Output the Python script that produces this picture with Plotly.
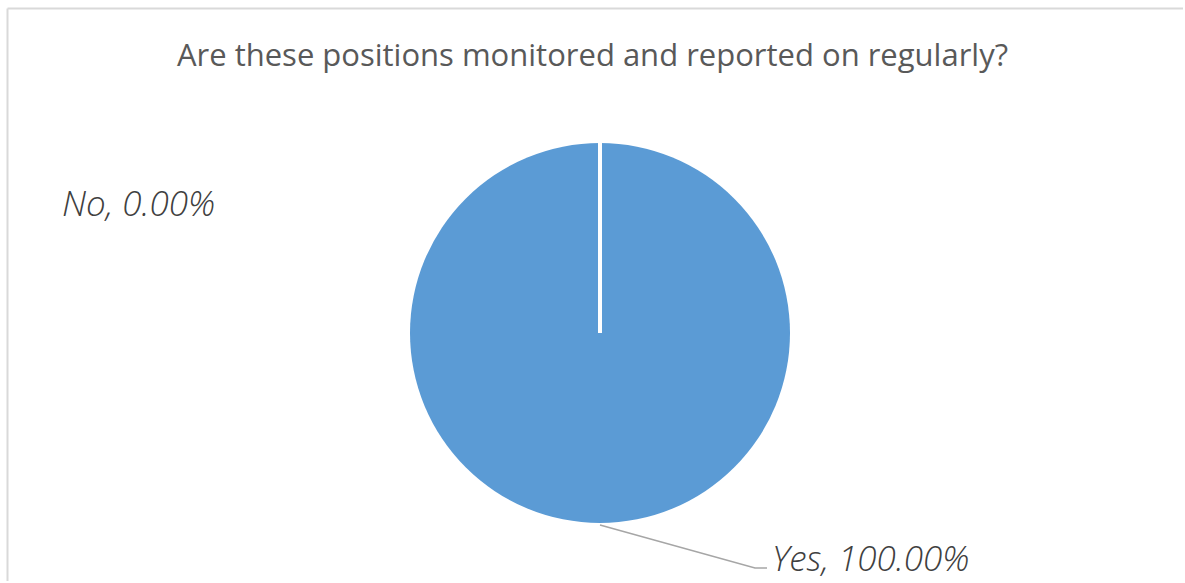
import plotly.graph_objects as go

# Survey answer shares (percent)
labels = ["No", "Yes"]
values = [0.0, 100.0]
colors = ["#ED7D31", "#5B9BD5"]

W, H = 1185, 583
cx_px, cy_px, r_px = 600, 333, 190

dom_x = [(cx_px - r_px) / W, (cx_px + r_px) / W]
dom_y = [(H - cy_px - r_px) / H, (H - cy_px + r_px) / H]

fig = go.Figure(
    go.Pie(
        labels=labels,
        values=values,
        marker=dict(colors=colors, line=dict(width=0)),
        textinfo="none",
        hoverinfo="label+percent",
        sort=False,
        direction="clockwise",
        rotation=0,
        domain=dict(x=dom_x, y=dom_y),
        showlegend=False,
    )
)

total = sum(values)
label_text = {lab: f"{lab}, {v / total * 100:.2f}%" for lab, v in zip(labels, values)}

label_font = dict(family="Open Sans", size=35, color="#404040", style="italic", weight=300)

cx = (dom_x[0] + dom_x[1]) / 2
cy = (dom_y[0] + dom_y[1]) / 2

# frame edges kept inside the page so nothing overflows
fx0, fy1 = 7.5 / W, 1 - 8.5 / H
fx1, fy0 = 1 - 2 / W, 2 / H
frame_line = dict(color="#D9D9D9", width=2)

fig.update_layout(
    width=W,
    height=H,
    margin=dict(l=0, r=0, t=0, b=0),
    paper_bgcolor="white",
    plot_bgcolor="white",
    title=dict(
        text="Are these positions monitored and reported on regularly?",
        x=0.5,
        xanchor="center",
        y=1 - 55 / H,
        yanchor="middle",
        font=dict(family="Open Sans", size=31, color="#595959"),
    ),
    shapes=[
        # chart frame: top and left edges
        dict(type="line", xref="paper", yref="paper",
             x0=fx0, x1=fx1, y0=fy1, y1=fy1, line=frame_line, layer="below"),
        dict(type="line", xref="paper", yref="paper",
             x0=fx0, x1=fx0, y0=fy0, y1=fy1, line=frame_line, layer="below"),
        # slice boundary at the 0% slice (12 o'clock)
        dict(type="line", xref="paper", yref="paper",
             x0=cx, x1=cx, y0=cy, y1=dom_y[1],
             line=dict(color="white", width=4)),
        # leader line for the "Yes" label
        dict(type="path", xref="paper", yref="paper",
             path=f"M {600 / W} {1 - 525 / H} L {755 / W} {1 - 568 / H} L {767 / W} {1 - 568 / H}",
             line=dict(color="#A6A6A6", width=1.5)),
    ],
    annotations=[
        dict(text=label_text["No"], xref="paper", yref="paper",
             x=60 / W, y=1 - 203 / H, xanchor="left", yanchor="middle",
             showarrow=False, font=label_font),
        dict(text=label_text["Yes"], xref="paper", yref="paper",
             x=770 / W, y=1 - 557 / H, xanchor="left", yanchor="middle",
             showarrow=False, font=label_font),
    ],
)

fig.write_html("out.html")
